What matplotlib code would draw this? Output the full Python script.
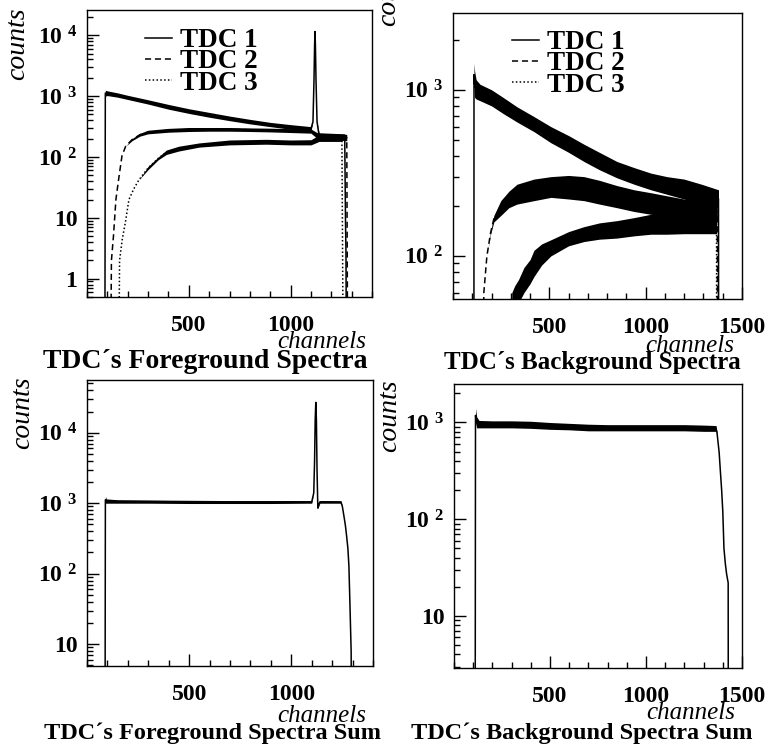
import numpy as np
import matplotlib.pyplot as plt
from matplotlib.ticker import MultipleLocator, LogLocator, NullFormatter

plt.rcParams['font.family'] = 'Liberation Serif'
plt.rcParams['mathtext.fontset'] = 'custom'
plt.rcParams['mathtext.rm'] = 'Liberation Serif:bold'
plt.rcParams['mathtext.bf'] = 'Liberation Serif:bold'

LOW = 0.1  # empty channels, below every axis range

# TDC foreground spectra: channel, lower and upper edge of the noise band
fg1_ch = [88, 90, 100, 150, 200, 300, 400, 500, 600, 700, 800, 900, 1000, 1100,
          1110, 1115, 1118, 1120, 1122, 1125, 1130, 1140, 1200, 1266, 1270, 1272, 1274]
fg1_lo = [LOW, 1000, 1020, 960, 880, 740, 610, 520, 450, 395, 350, 315, 285, 265,
          380, 1800, 7000, 11500, 7000, 1800, 380, 200, 195, 190, 8, 3, LOW]
fg1_hi = [LOW, 1250, 1220, 1130, 1030, 870, 730, 620, 540, 470, 415, 370, 340, 315,
          380, 1800, 7000, 11500, 7000, 1800, 380, 250, 245, 240, 8, 3, LOW]

fg2_ch = [117, 120, 130, 142, 157, 172, 190, 221, 260, 300, 400, 500, 600, 700, 800,
          900, 1000, 1100, 1140, 1200, 1276, 1278, 1280]
fg2_lo = [LOW, 2, 5, 20, 47, 105, 150, 185, 220, 240, 255, 262, 265, 265, 262,
          258, 252, 246, 190, 190, 185, 4, LOW]
fg2_hi = [LOW, 2, 5, 20, 47, 105, 150, 200, 245, 275, 295, 305, 305, 305, 300,
          297, 292, 288, 240, 240, 235, 4, LOW]

fg3_ch = [157, 160, 173, 190, 206, 230, 255, 300, 350, 390, 450, 550, 700, 880,
          1000, 1100, 1140, 1200, 1252, 1255, 1258]
fg3_lo = [LOW, 2, 4.4, 9, 20, 30, 42, 62, 90, 110, 125, 145, 158, 162,
          158, 158, 180, 180, 180, 5, LOW]
fg3_hi = [LOW, 2, 4.4, 9, 20, 30, 42, 70, 100, 130, 150, 170, 190, 195,
          190, 192, 230, 230, 230, 5, LOW]

# TDC background spectra
bg1_ch = [108, 109, 112, 120, 140, 200, 260, 332, 420, 508, 600, 680, 760, 851,
          940, 1027, 1110, 1199, 1290, 1378, 1380]
bg1_lo = [LOW, 1050, 900, 880, 860, 800, 720, 640, 560, 480, 420, 370, 330, 295,
          270, 250, 235, 220, 205, 195, LOW]
bg1_hi = [LOW, 1450, 1300, 1150, 1080, 1000, 900, 790, 690, 600, 530, 470, 420, 370,
          340, 315, 300, 290, 270, 250, LOW]

bg2_ch = [150, 160, 176, 195, 212, 248, 290, 332, 420, 508, 600, 680, 760, 851,
          940, 1027, 1110, 1199, 1290, 1372, 1374]
bg2_lo = [LOW, 60, 100, 135, 160, 175, 195, 205, 215, 225, 220, 215, 205, 195,
          185, 178, 172, 168, 165, 160, LOW]
bg2_hi = [LOW, 60, 100, 140, 175, 215, 245, 270, 290, 300, 305, 300, 285, 265,
          250, 240, 230, 220, 218, 215, LOW]

bg3_ch = [300, 305, 320, 340, 368, 400, 420, 460, 508, 600, 680, 760, 851, 940,
          1027, 1110, 1199, 1290, 1368, 1370]
bg3_lo = [LOW, 40, 45, 52, 60, 68, 75, 88, 100, 115, 122, 126, 128, 132,
          135, 135, 136, 136, 136, LOW]
bg3_hi = [LOW, 60, 66, 72, 85, 95, 108, 118, 125, 140, 150, 158, 163, 170,
          178, 182, 187, 192, 196, LOW]

# summed spectra
sfg_ch = [88, 90, 95, 150, 300, 500, 700, 900, 1100, 1110, 1114, 1117, 1120, 1123,
          1126, 1130, 1135, 1140, 1243, 1250, 1258, 1265, 1270, 1277, 1282, 1287, 1293, 1296]
sfg_lo = [LOW, 1000, 1000, 1000, 1000, 990, 990, 990, 1000, 1400, 4000, 15000, 27000, 15000,
          3000, 850, 920, 1000, 1000, 900, 650, 480, 360, 230, 130, 38, 8, LOW]
sfg_hi = [LOW, 1250, 1150, 1120, 1110, 1100, 1090, 1090, 1090, 1400, 4000, 15000, 27000, 15000,
          3000, 850, 1000, 1090, 1080, 900, 650, 480, 360, 230, 130, 38, 8, LOW]

sbg_ch = [110, 112, 118, 130, 200, 300, 400, 500, 600, 700, 800, 900, 1000, 1100,
          1200, 1300, 1365, 1370, 1381, 1388, 1394, 1400, 1406, 1413, 1420, 1428, 1429]
sbg_lo = [LOW, 1000, 880, 880, 880, 880, 870, 850, 840, 820, 820, 820, 820, 820,
          820, 810, 810, 780, 490, 300, 200, 120, 50, 35, 27, 22, LOW]
sbg_hi = [LOW, 1400, 1150, 1050, 1040, 1040, 1030, 1000, 980, 960, 950, 950, 950, 950,
          950, 940, 930, 780, 490, 300, 200, 120, 50, 35, 27, 22, LOW]

legend_labels = ['TDC 1', 'TDC 2', 'TDC 3']

W, H = 768, 749
fig = plt.figure(figsize=(W / 100, H / 100), dpi=100)


def box(left, top, right, bottom):
    return [left / W, 1 - bottom / H, (right - left) / W, (bottom - top) / H]


def spectrum(ax, ch, lo, hi, ls):
    ch, lo, hi = np.array(ch, float), np.array(lo, float), np.array(hi, float)
    ax.fill_between(ch, lo, hi, color='k', lw=0)
    line, = ax.plot(ch, np.sqrt(lo * hi), color='k', ls=ls, lw=1.1)
    return line


def frame(ax, xmax, ylim, decades, names):
    ax.set_yscale('log')
    ax.set_xlim(0, xmax)
    ax.set_ylim(*ylim)
    xt = [t for t in (500, 1000, 1500) if t <= xmax]
    ax.set_xticks(xt, [str(t) for t in xt], fontweight='bold', fontsize=17)
    ax.xaxis.set_minor_locator(MultipleLocator(100))
    ax.set_yticks(decades, names, fontweight='bold', fontsize=17)
    ax.yaxis.set_minor_locator(LogLocator(base=10, subs=range(2, 10)))
    ax.yaxis.set_minor_formatter(NullFormatter())
    ax.tick_params(which='both', direction='in', top=False, right=False, width=1)
    ax.tick_params(which='major', length=8.5)
    ax.tick_params(which='minor', length=4)
    ax.tick_params(axis='x', pad=13)
    ax.tick_params(axis='y', pad=7)
    for s in ax.spines.values():
        s.set_linewidth(1.0)


def fig_text(x, y, s, **kw):
    fig.text(x / W, 1 - y / H, s, **kw)


def legend(ax, handles, x, y):
    ax.legend(handles, legend_labels, loc='upper left', bbox_to_anchor=(x / W, 1 - y / H),
              bbox_transform=fig.transFigure, frameon=False, borderpad=0, borderaxespad=0,
              handlelength=1.0, handletextpad=0.3, labelspacing=-0.13,
              prop={'weight': 'bold', 'size': 19.5})


sup = lambda n: r'$\mathbf{10^{\ %d}}$' % n

# foreground, three TDCs
ax1 = fig.add_axes(box(87, 10, 372, 297))
h = [spectrum(ax1, fg1_ch, fg1_lo, fg1_hi, '-'),
     spectrum(ax1, fg2_ch, fg2_lo, fg2_hi, (0, (4, 2.5))),
     spectrum(ax1, fg3_ch, fg3_lo, fg3_hi, (0, (1, 1.5)))]
frame(ax1, 1400, (0.5, 2.6e4), [1, 10, 100, 1000, 10000], ['1', '10', sup(2), sup(3), sup(4)])
legend(ax1, h, 145, 28)

# background, three TDCs
ax2 = fig.add_axes(box(453, 13, 742, 299))
h = [spectrum(ax2, bg1_ch, bg1_lo, bg1_hi, '-'),
     spectrum(ax2, bg2_ch, bg2_lo, bg2_hi, (0, (4, 2.5))),
     spectrum(ax2, bg3_ch, bg3_lo, bg3_hi, (0, (1, 1.5)))]
frame(ax2, 1500, (55, 2900), [100, 1000], [sup(2), sup(3)])
legend(ax2, h, 512, 30)

# summed foreground
ax3 = fig.add_axes(box(87, 380, 373, 666))
spectrum(ax3, sfg_ch, sfg_lo, sfg_hi, '-')
frame(ax3, 1400, (4.9, 5.6e4), [10, 100, 1000, 10000], ['10', sup(2), sup(3), sup(4)])

# summed background
ax4 = fig.add_axes(box(454, 384, 742, 668))
spectrum(ax4, sbg_ch, sbg_lo, sbg_hi, '-')
frame(ax4, 1500, (2.9, 2500), [10, 100, 1000], ['10', sup(2), sup(3)])

italic = dict(style='italic', ha='center', va='center')
bold = dict(weight='bold', ha='center', va='center')

fig_text(18, 44, 'counts', rotation=90, fontsize=20, **italic)
fig_text(389, -10, 'counts', rotation=90, fontsize=20, **italic)
fig_text(23, 413, 'counts', rotation=90, fontsize=20, **italic)
fig_text(390, 416, 'counts', rotation=90, fontsize=20, **italic)

for x, y in [(322, 342), (690, 346), (322, 716), (691, 713)]:
    fig_text(x, y, 'channels', fontsize=18, **italic)

fig_text(205, 362, 'TDC\u00b4s Foreground Spectra', fontsize=20, **bold)
fig_text(592, 363, 'TDC\u00b4s Background Spectra', fontsize=18, **bold)
fig_text(212, 733, 'TDC\u00b4s Foreground Spectra Sum', fontsize=17.5, **bold)
fig_text(582, 733, 'TDC\u00b4s Background Spectra Sum', fontsize=17.5, **bold)

fig.savefig('out.png', dpi=100)
